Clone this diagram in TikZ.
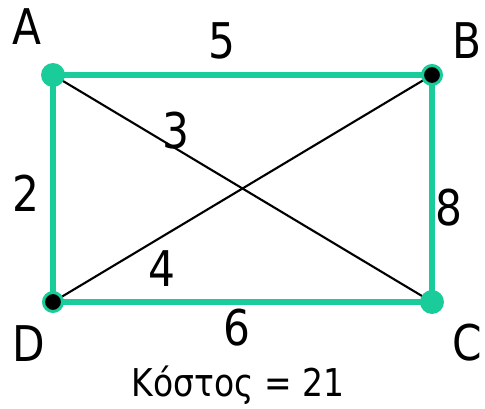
\documentclass[tikz,border=0pt]{standalone}
\usepackage{fontspec}
\setmainfont{DejaVu Sans}[FakeStretch=0.86]
\usepackage{xcolor}
\usetikzlibrary{arrows.meta}
\definecolor{tree}{RGB}{26,204,153}

\begin{document}
\begin{tikzpicture}[x=0.02cm,y=-0.02cm,
  lab/.style={font=\fontsize{28}{30}\selectfont},
  gdot/.style={circle,fill=tree,inner sep=0pt,minimum size=0.48cm},
  bdot/.style={circle,fill=black,draw=tree,line width=1.7pt,inner sep=0pt,minimum size=0.38cm}]
\useasboundingbox (0,0) rectangle (485,409);
\coordinate (A) at (53,75);
\coordinate (B) at (432,75);
\coordinate (C) at (432,302);
\coordinate (D) at (53,302);
% diagonals
\draw[line width=1.2pt] (A) -- (C);
\draw[line width=1.2pt] (B) -- (D);
% spanning tree
\draw[tree, line width=3.6pt] (B) -- (A) -- (D) -- (C) -- (B);
\node[gdot] (dA) at (A) {};
\node[bdot] (dB) at (B) {};
\node[gdot] (dC) at (C) {};
\node[bdot] (dD) at (D) {};
\node[lab] (lA) at (27,27) {A};
\node[lab] (lB) at (467,41) {B};
\node[lab] (lC) at (467,343) {C};
\node[lab] (lD) at (29,344) {D};
\node[lab] (w5) at (222,41) {5};
\node[lab] (w3) at (176,131) {3};
\node[lab] (w2) at (26,193) {2};
\node[lab] (w8) at (449,208) {8};
\node[lab] (w4) at (162,269) {4};
\node[lab] (w6) at (237,328) {6};
\node[font=\fontsize{21.8}{24}\selectfont] (cost) at (238,385) {Κόστος = 21};
\end{tikzpicture}
\end{document}
